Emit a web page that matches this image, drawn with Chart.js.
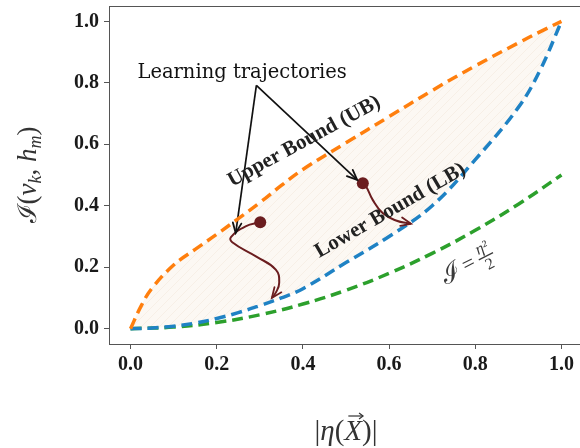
<!DOCTYPE html>
<html>
<head>
<meta charset="utf-8">
<script src="https://cdn.jsdelivr.net/npm/chart.js@4.4.0/dist/chart.umd.min.js"></script>
<style>
  html, body { margin: 0; padding: 0; background: #fff; overflow: hidden; }
  #wrap { width: 590px; height: 448px; }
</style>
</head>
<body>
<div id="wrap"><canvas id="boundsChart" width="590" height="448"></canvas></div>
<script>
// |eta(X)| grid shared by both bounds
const etaGrid = [0, 0.025, 0.05, 0.1, 0.15, 0.2, 0.25, 0.3, 0.35, 0.4, 0.5, 0.6, 0.7, 0.8, 0.9, 0.95, 1.0];
const upperBound = [0, 0.075, 0.132, 0.207, 0.258, 0.307, 0.358, 0.41, 0.466, 0.518, 0.605, 0.69, 0.775, 0.855, 0.93, 0.966, 1.0];
const lowerBound = [0, 0.0005, 0.002, 0.008, 0.018, 0.033, 0.052, 0.075, 0.1, 0.13, 0.215, 0.3, 0.4, 0.55, 0.72, 0.84, 1.0];

// I = eta^2 / 2 reference curve
const halfEta = [0, 0.1, 0.2, 0.3, 0.4, 0.5, 0.6, 0.7, 0.8, 0.9, 1.0];
const halfI = [0, 0.005, 0.02, 0.045, 0.08, 0.125, 0.18, 0.245, 0.32, 0.405, 0.5];

// two learning trajectories (start dot -> arrow tip)
const trajAEta = [0.301, 0.267, 0.233, 0.236, 0.291, 0.337, 0.345, 0.337, 0.328];
const trajAI   = [0.346, 0.333, 0.298, 0.281, 0.235, 0.192, 0.149, 0.117, 0.100];
const trajBEta = [0.539, 0.547, 0.562, 0.585, 0.616, 0.651];
const trajBI   = [0.473, 0.462, 0.419, 0.376, 0.352, 0.341];

// annotation pointer: text anchor and the two arrow tips
const pointerFrom = [0.292, 0.792];
const pointerTips = [[0.244, 0.311], [0.526, 0.484]];

const xTicks = [0.0, 0.2, 0.4, 0.6, 0.8, 1.0];
const yTicks = [0.0, 0.2, 0.4, 0.6, 0.8, 1.0];

const toPts = (xs, ys) => xs.map((v, i) => ({ x: v, y: ys[i] }));

const SERIF = '"Liberation Serif", "Times New Roman", Times, serif';

// light beige fill with faint diagonal hatching
const hatch = document.createElement('canvas');
hatch.width = hatch.height = 9;
const hc = hatch.getContext('2d');
hc.fillStyle = '#fcf8f3';
hc.fillRect(0, 0, 9, 9);
hc.strokeStyle = 'rgba(225,200,170,0.18)';
hc.lineWidth = 1;
hc.beginPath(); hc.moveTo(0, 9); hc.lineTo(9, 0); hc.stroke();
const hatchFill = hc.createPattern(hatch, 'repeat');

const maroon = '#6b1d1f';

function arrowHead(ctx, x0, y0, x1, y1, color, len) {
  const a = Math.atan2(y1 - y0, x1 - x0);
  ctx.save();
  ctx.strokeStyle = color;
  ctx.lineWidth = 1.8;
  ctx.lineCap = 'round';
  ctx.beginPath();
  ctx.moveTo(x1 - len * Math.cos(a - 0.4), y1 - len * Math.sin(a - 0.4));
  ctx.lineTo(x1, y1);
  ctx.lineTo(x1 - len * Math.cos(a + 0.4), y1 - len * Math.sin(a + 0.4));
  ctx.stroke();
  ctx.restore();
}

function rotatedText(ctx, text, cx, cy, deg, font, color) {
  ctx.save();
  ctx.translate(cx, cy);
  ctx.rotate(deg * Math.PI / 180);
  ctx.font = font;
  ctx.fillStyle = color;
  ctx.textAlign = 'center';
  ctx.textBaseline = 'middle';
  ctx.fillText(text, 0, 0);
  ctx.restore();
}

// draws runs of text (with sub/superscript offsets) centered on the origin
function runs(ctx, parts, color) {
  let total = 0;
  parts.forEach(p => { ctx.font = p.font; p.w = ctx.measureText(p.t).width; total += p.w; });
  let x = -total / 2;
  ctx.fillStyle = color;
  ctx.textBaseline = 'alphabetic';
  ctx.textAlign = 'left';
  parts.forEach(p => {
    ctx.font = p.font;
    ctx.fillText(p.t, x, p.dy || 0);
    p.x = x;
    x += p.w;
  });
  return parts;
}

const decorations = {
  id: 'decorations',
  afterDatasetsDraw(chart) {
    const { ctx, chartArea: a, scales: { x, y } } = chart;
    ctx.save();

    // full frame around the plot
    ctx.strokeStyle = '#555';
    ctx.lineWidth = 1;
    ctx.strokeRect(a.left + 0.5, a.top + 0.5, a.width, a.height);

    // arrow heads on trajectory and pointer lines
    chart.data.datasets.forEach((ds, k) => {
      if (!ds.arrow) return;
      const pts = chart.getDatasetMeta(k).data;
      const p = pts[pts.length - 1], q = pts[pts.length - 2];
      arrowHead(ctx, q.x, q.y, p.x, p.y, ds.borderColor, 11);
    });

    const px = (e) => x.getPixelForValue(e);
    const py = (i) => y.getPixelForValue(i);

    rotatedText(ctx, 'Learning trajectories', px(0.259), py(0.831), 0, '19.5px "DejaVu Serif"', '#111');
    rotatedText(ctx, 'Upper Bound (UB)', px(0.403), py(0.609), -28.5, 'bold 21px ' + SERIF, '#222');
    rotatedText(ctx, 'Lower Bound (LB)', px(0.603), py(0.384), -30, 'bold 21px ' + SERIF, '#222');

    // I = eta^2 / 2 label along the green curve
    ctx.save();
    ctx.translate(px(0.792), py(0.218));
    ctx.rotate(-27 * Math.PI / 180);
    ctx.fillStyle = '#3a3a3a';
    ctx.textBaseline = 'alphabetic';
    ctx.textAlign = 'center';
    ctx.font = '26px "DejaVu Serif"';
    ctx.fillText('ℐ', -24, 9);
    ctx.font = '22px ' + SERIF;
    ctx.fillText('=', -4, 7);
    ctx.font = 'italic 16px ' + SERIF;
    ctx.fillText('η²', 15, -3);
    ctx.font = '16px ' + SERIF;
    ctx.fillText('2', 15, 15);
    ctx.fillRect(7, 1, 16, 1.2);
    ctx.restore();

    // y axis title: I(v_k, h_m)
    ctx.save();
    ctx.translate(27, (a.top + a.bottom) / 2);
    ctx.rotate(-Math.PI / 2);
    runs(ctx, [
      { t: 'ℐ', font: '26px "DejaVu Serif"', dy: 9 },
      { t: '(', font: '27px ' + SERIF, dy: 9 },
      { t: 'v', font: 'italic 27px ' + SERIF, dy: 9 },
      { t: 'k', font: 'italic 18px ' + SERIF, dy: 14 },
      { t: ', ', font: '27px ' + SERIF, dy: 9 },
      { t: 'h', font: 'italic 27px ' + SERIF, dy: 9 },
      { t: 'm', font: 'italic 18px ' + SERIF, dy: 14 },
      { t: ')', font: '27px ' + SERIF, dy: 9 }
    ], '#333');
    ctx.restore();

    // x axis title: |eta(X->)|
    ctx.save();
    ctx.translate((a.left + a.right) / 2, 440);
    const parts = runs(ctx, [
      { t: '|', font: '29px ' + SERIF },
      { t: 'η', font: 'italic 29px ' + SERIF },
      { t: '(', font: '29px ' + SERIF },
      { t: 'X', font: 'italic 29px ' + SERIF },
      { t: ')', font: '29px ' + SERIF },
      { t: '|', font: '29px ' + SERIF }
    ], '#333');
    const X = parts[3];
    const ax0 = X.x + 4, ax1 = X.x + X.w + 1, ay = -24;
    ctx.strokeStyle = '#333';
    ctx.lineWidth = 1.2;
    ctx.beginPath(); ctx.moveTo(ax0, ay); ctx.lineTo(ax1, ay); ctx.stroke();
    ctx.beginPath(); ctx.moveTo(ax1 - 4, ay - 3); ctx.lineTo(ax1, ay); ctx.lineTo(ax1 - 4, ay + 3); ctx.stroke();
    ctx.restore();

    ctx.restore();
  }
};

const dashed = { borderWidth: 3.5, borderDash: [11, 6], pointRadius: 0, showLine: true, tension: 0.4 };

// drop the half-label padding so the plot box fills its fixed slot
const noPad = s => { s.paddingTop = 0; s.paddingBottom = 0; s.paddingLeft = 0; s.paddingRight = 0; };

new Chart(document.getElementById('boundsChart'), {
  type: 'scatter',
  data: {
    datasets: [
      { label: 'UB', data: toPts(etaGrid, upperBound), borderColor: '#ff7f0e', fill: '+1', backgroundColor: hatchFill, ...dashed },
      { label: 'LB', data: toPts(etaGrid, lowerBound), borderColor: '#1f82c4', ...dashed },
      { label: 'half', data: toPts(halfEta, halfI), borderColor: '#2ca02c', ...dashed },
      {
        label: 'traj A', data: toPts(trajAEta, trajAI), borderColor: maroon, borderWidth: 2,
        showLine: true, tension: 0.45, arrow: true, backgroundColor: maroon,
        pointRadius: c => c.dataIndex === 0 ? 6 : 0, pointBorderWidth: 0
      },
      {
        label: 'traj B', data: toPts(trajBEta, trajBI), borderColor: maroon, borderWidth: 2,
        showLine: true, tension: 0.45, arrow: true, backgroundColor: maroon,
        pointRadius: c => c.dataIndex === 0 ? 6 : 0, pointBorderWidth: 0
      },
      ...pointerTips.map((tip, i) => ({
        label: 'pointer ' + i,
        data: [{ x: pointerFrom[0], y: pointerFrom[1] }, { x: tip[0], y: tip[1] }],
        borderColor: '#111', borderWidth: 1.7, showLine: true, pointRadius: 0, arrow: true
      }))
    ]
  },
  options: {
    responsive: false,
    animation: false,
    devicePixelRatio: 1,
    layout: { padding: { top: 5, right: 7, left: 0, bottom: 0 } },
    plugins: {
      legend: { display: false },
      tooltip: { enabled: false },
      filler: { drawTime: 'beforeDatasetsDraw' }
    },
    scales: {
      x: {
        type: 'linear', min: -0.05, max: 1.05,
        afterFit: s => { s.height = 104; noPad(s); },
        afterBuildTicks: s => { s.ticks = xTicks.map(v => ({ value: v })); },
        grid: { drawOnChartArea: false, drawTicks: true, tickLength: 5, color: '#555' },
        border: { color: '#555', width: 1 },
        ticks: {
          padding: 4, color: '#1a1a1a', maxRotation: 0,
          font: { family: SERIF, size: 20, weight: 'bold' },
          callback: v => v.toFixed(1)
        }
      },
      y: {
        type: 'linear', min: -0.05, max: 1.05,
        afterFit: s => { s.width = 109; noPad(s); },
        afterBuildTicks: s => { s.ticks = yTicks.map(v => ({ value: v })); },
        grid: { drawOnChartArea: false, drawTicks: true, tickLength: 5, color: '#555' },
        border: { color: '#555', width: 1 },
        ticks: {
          padding: 5, color: '#1a1a1a',
          font: { family: SERIF, size: 20, weight: 'bold' },
          callback: v => v.toFixed(1)
        }
      }
    }
  },
  plugins: [decorations]
});
</script>
</body>
</html>
